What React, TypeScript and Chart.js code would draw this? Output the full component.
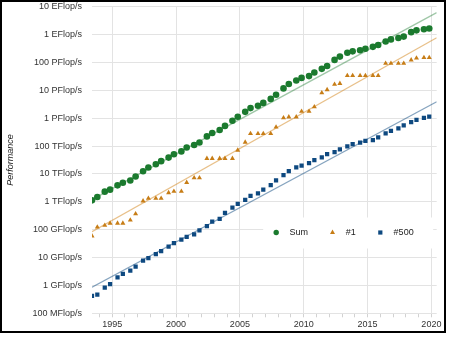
import React, { useEffect, useRef } from 'react';
import { Chart, registerables } from 'chart.js';

Chart.register(...registerables);

// TOP500 list dates (June / November)
const listDates = [
  '1993-06', '1993-11', '1994-06', '1994-11', '1995-06', '1995-11', '1996-06', '1996-11',
  '1997-06', '1997-11', '1998-06', '1998-11', '1999-06', '1999-11', '2000-06', '2000-11',
  '2001-06', '2001-11', '2002-06', '2002-11', '2003-06', '2003-11', '2004-06', '2004-11',
  '2005-06', '2005-11', '2006-06', '2006-11', '2007-06', '2007-11', '2008-06', '2008-11',
  '2009-06', '2009-11', '2010-06', '2010-11', '2011-06', '2011-11', '2012-06', '2012-11',
  '2013-06', '2013-11', '2014-06', '2014-11', '2015-06', '2015-11', '2016-06', '2016-11',
  '2017-06', '2017-11', '2018-06', '2018-11', '2019-06', '2019-11',
];

// Values in GFlop/s
const sumGF = [
  1128, 1493, 2317, 2732, 3900, 4800, 5800, 8100,
  12500, 17000, 22300, 28800, 38500, 50900, 64300, 88900,
  108600, 134100, 222300, 293000, 374800, 528200, 813000, 1127000,
  1690000, 2300000, 2790000, 3540000, 4920000, 6970000, 11700000, 16950000,
  22600000, 27950000, 32400000, 43600000, 58900000, 74200000, 123400000, 162000000,
  223000000, 250000000, 274000000, 309000000, 363000000, 420000000, 567000000, 672000000,
  749000000, 845000000, 1220000000, 1420000000, 1560000000, 1650000000,
];

const firstGF = [
  59.7, 124.5, 143.4, 170.4, 170.4, 170.4, 220.4, 368.2,
  1068, 1338, 1338, 1338, 2121, 2379, 2379, 4938,
  7226, 7226, 35860, 35860, 35860, 35860, 35860, 70720,
  136800, 280600, 280600, 280600, 280600, 478200, 1026000, 1105000,
  1105000, 1759000, 1759000, 2566000, 8162000, 10510000, 16320000, 17590000,
  33860000, 33860000, 33860000, 33860000, 33860000, 33860000, 93010000, 93010000,
  93010000, 93010000, 122300000, 143500000, 148600000, 148600000,
];

const lastGF = [
  0.42, 0.47, 0.84, 1.11, 1.96, 2.59, 3.4, 4.7,
  7.69, 9.51, 13.39, 17.12, 24.6, 33.1, 43.8, 55.1,
  67.8, 94.3, 134.3, 195.8, 245.1, 403.4, 624, 850.6,
  1166, 1646, 2026, 2737, 4005, 5929, 9000, 12640,
  17090, 20050, 24670, 31120, 39090, 50940, 60820, 76500,
  96620, 117800, 133700, 153400, 164700, 206300, 286100, 349300,
  432200, 548700, 715600, 874800, 1022000, 1142000,
];

// Trend lines (start / end), GFlop/s
const trendDates = ['1993-06', '2020-06'];
const sumTrendGF = [1200, 6.1e9];
const firstTrendGF = [85, 7.7e8];
const lastTrendGF = [0.86, 3.9e6];

// Axis ticks
const yTickValues = [0.1, 1, 10, 100, 1e3, 1e4, 1e5, 1e6, 1e7, 1e8, 1e9, 1e10];
const yTickLabels = [
  '100 MFlop/s', '1 GFlop/s', '10 GFlop/s', '100 GFlop/s', '1 TFlop/s', '10 TFlop/s',
  '100 TFlop/s', '1 PFlop/s', '10 PFlop/s', '100 PFlop/s', '1 EFlop/s', '10 EFlop/s',
];
const xTickYears = [
  1994, 1995, 1996, 1997, 1998, 1999, 2000, 2001, 2002, 2003, 2004, 2005, 2006, 2007,
  2008, 2009, 2010, 2011, 2012, 2013, 2014, 2015, 2016, 2017, 2018, 2019, 2020,
];
const xLabelYears = [1995, 2000, 2005, 2010, 2015, 2020];

const seriesNames = ['Sum', '#1', '#500'];
const seriesColors = ['#1b7a2e', '#c77d16', '#0e4980'];
const trendColors = ['rgba(27,122,46,0.42)', 'rgba(214,140,40,0.55)', 'rgba(14,73,128,0.5)'];
const pointStyles = ['circle', 'triangle', 'rect'];
const pointRadii = [3.3, 2.9, 3.0];

const FONT = "'Liberation Sans', Arial, sans-serif";

const toYear = (d: string) => {
  const [y, m] = d.split('-').map(Number);
  return y + (m - 1) / 12;
};

const insideLegend = {
  id: 'insideLegend',
  afterDraw(chart: any) {
    const { ctx, chartArea: ca } = chart;
    const cy = ca.top + (ca.bottom - ca.top) * 0.7365;
    const boxRight = ca.right - 3.5;
    const boxLeft = boxRight - 170;
    ctx.save();
    ctx.fillStyle = '#ffffff';
    ctx.fillRect(boxLeft, cy - 15, boxRight - boxLeft, 31);
    ctx.font = `9px ${FONT}`;
    ctx.textBaseline = 'middle';
    ctx.textAlign = 'left';
    let mx = boxLeft + 13;
    seriesNames.forEach((name, i) => {
      ctx.fillStyle = seriesColors[i];
      ctx.beginPath();
      if (pointStyles[i] === 'circle') {
        ctx.arc(mx, cy, 2.7, 0, Math.PI * 2);
      } else if (pointStyles[i] === 'triangle') {
        const r = 2.9;
        ctx.moveTo(mx, cy - r);
        ctx.lineTo(mx + r * 0.866, cy + r * 0.5);
        ctx.lineTo(mx - r * 0.866, cy + r * 0.5);
        ctx.closePath();
      } else {
        ctx.rect(mx - 2.1, cy - 2.1, 4.2, 4.2);
      }
      ctx.fill();
      ctx.fillStyle = '#222';
      const tx = mx + 13.3;
      ctx.fillText(name, tx, cy);
      mx = tx + ctx.measureText(name).width + 24.5;
    });
    ctx.restore();
  },
};

export default function App() {
  const canvasRef = useRef<HTMLCanvasElement>(null);

  useEffect(() => {
    document.body.style.margin = '0';
    const canvas = canvasRef.current;
    if (!canvas) return;
    const xs = listDates.map(toYear);
    const xMin = toYear(trendDates[0]);
    const xMax = toYear(trendDates[1]);
    const seriesValues = [sumGF, firstGF, lastGF];
    const trendValues = [sumTrendGF, firstTrendGF, lastTrendGF];

    const pointSets = seriesValues.map((vals, i) => ({
      label: seriesNames[i],
      data: vals.map((v, j) => ({ x: xs[j], y: v })),
      showLine: false,
      pointStyle: pointStyles[i],
      pointRadius: pointRadii[i],
      pointBackgroundColor: seriesColors[i],
      pointBorderWidth: 0,
      borderColor: seriesColors[i],
    }));
    const trendSets = trendValues.map((vals, i) => ({
      label: seriesNames[i] + ' trend',
      data: vals.map((v, j) => ({ x: toYear(trendDates[j]), y: v })),
      showLine: true,
      borderColor: trendColors[i],
      borderWidth: 1.3,
      pointRadius: 0,
      fill: false,
    }));

    const chart = new Chart(canvas, {
      type: 'scatter',
      data: { datasets: [...pointSets, ...trendSets] as any },
      options: {
        animation: false,
        responsive: false,
        devicePixelRatio: 1,
        layout: { padding: { top: 4.7, right: 7.3, bottom: 0, left: 0 } },
        plugins: {
          legend: { display: false },
          tooltip: { enabled: false },
        },
        scales: {
          x: {
            type: 'linear',
            min: xMin,
            max: xMax,
            afterBuildTicks: (scale: any) => {
              scale.ticks = xTickYears.map((v) => ({ value: v }));
            },
            afterFit: (scale: any) => {
              scale.height = 17.7;
              scale.paddingLeft = 0;
              scale.paddingRight = 0;
            },
            border: { display: false },
            grid: {
              color: (ctx: any) =>
                ctx.tick && xLabelYears.includes(ctx.tick.value) ? '#e3e3e3' : 'rgba(0,0,0,0)',
              tickColor: '#d2d2d2',
              tickLength: 4,
              drawTicks: true,
            },
            ticks: {
              autoSkip: false,
              maxRotation: 0,
              padding: 1.5,
              color: '#333',
              font: { family: FONT, size: 9 },
              callback: (v: any) => (xLabelYears.includes(Number(v)) ? String(v) : ''),
            },
          },
          y: {
            type: 'logarithmic',
            min: yTickValues[0],
            max: yTickValues[yTickValues.length - 1],
            afterBuildTicks: (scale: any) => {
              scale.ticks = yTickValues.map((v) => ({ value: v }));
            },
            afterFit: (scale: any) => {
              scale.width = 90;
              scale.paddingTop = 0;
              scale.paddingBottom = 0;
            },
            border: { display: false },
            grid: { color: '#e3e3e3', drawTicks: false },
            ticks: {
              padding: 10,
              color: '#333',
              font: { family: FONT, size: 9 },
              callback: (v: any) => {
                const idx = yTickValues.findIndex((t) => Math.abs(Math.log10(t) - Math.log10(Number(v))) < 1e-6);
                return idx >= 0 ? yTickLabels[idx] : '';
              },
            },
            title: {
              display: true,
              text: 'Performance',
              color: '#222',
              font: { family: FONT, size: 9, style: 'italic' },
              padding: { top: 2.6, bottom: 0 },
            },
          },
        },
      } as any,
      plugins: [insideLegend],
    });
    return () => chart.destroy();
  }, []);

  return (
    <div
      style={{
        position: 'absolute',
        left: 0,
        top: 0,
        width: 446,
        height: 333,
        boxSizing: 'border-box',
        border: '2px solid #000',
        background: '#fff',
      }}
    >
      <canvas ref={canvasRef} width={442} height={329} style={{ display: 'block', width: 442, height: 329 }} />
    </div>
  );
}
